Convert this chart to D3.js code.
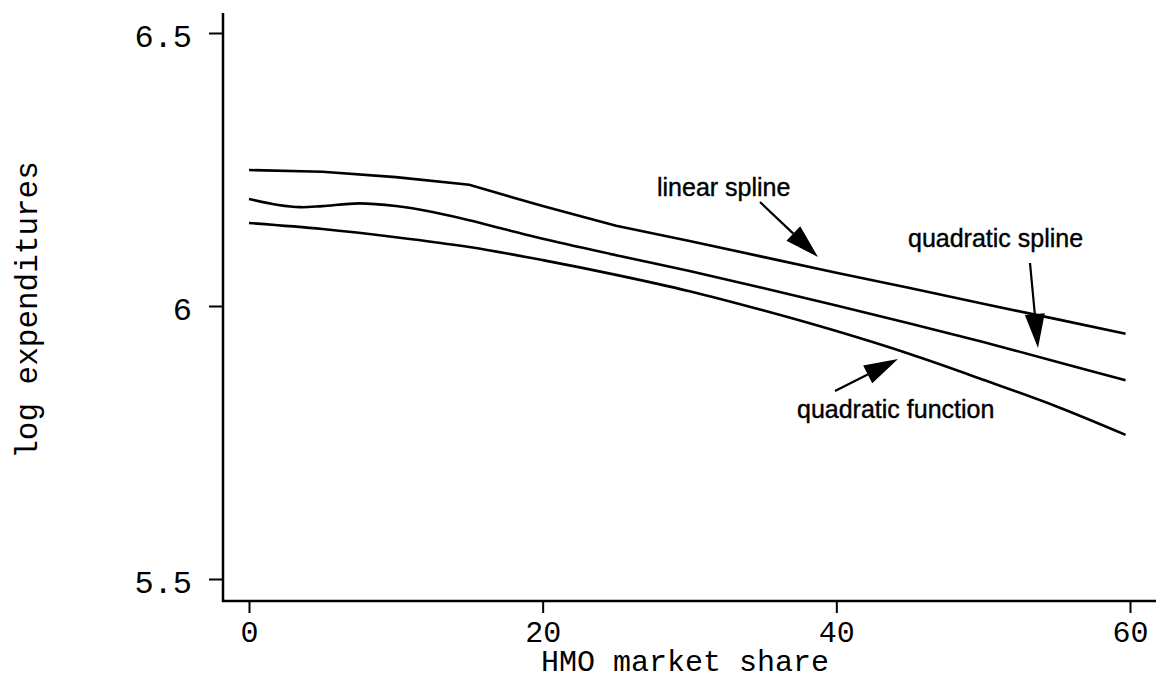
<!DOCTYPE html>
<html><head><meta charset="utf-8">
<script src="https://cdn.jsdelivr.net/npm/d3@7"></script>
<style>body{margin:0;background:#fff}svg{display:block}</style>
</head><body>
<svg id="c" width="1158" height="679"></svg>
<script>
const xTicks = [0, 20, 40, 60];
const yTicks = [5.5, 6, 6.5];
const linearSpline = [[0,6.249],[5,6.246],[10,6.236],[15,6.222],[20,6.183],[25,6.147],[30,6.119],[35,6.090],[40,6.061],[45,6.033],[50,6.004],[55,5.976],[59.7,5.949]];
const quadSpline = [[0,6.196],[2,6.185],[3.5,6.181],[5,6.183],[7.5,6.188],[10,6.183],[12.5,6.172],[15,6.157],[17.5,6.140],[20,6.123],[25,6.093],[30,6.064],[35,6.033],[40,6.001],[45,5.968],[50,5.934],[55,5.898],[59.7,5.864]];
const quadFunction = [[0,6.152],[5,6.141],[10,6.126],[15,6.108],[20,6.084],[25,6.057],[30,6.027],[35,5.992],[40,5.954],[45,5.912],[50,5.865],[55,5.816],[59.7,5.764]];
const annotations = [
  {text:"linear spline", tx:657, ty:196, from:[760,202], to:[818,257]},
  {text:"quadratic spline", tx:908, ty:247, from:[1030,263], to:[1038,348]},
  {text:"quadratic function", tx:797, ty:418, from:[835,391], to:[898,359]}
];

const svg = d3.select("#c");
const x = d3.scaleLinear().domain([0,60]).range([249,1130]);
const y = d3.scaleLinear().domain([5.5,6.5]).range([579,33]);
const axisFont = "'Liberation Mono', 'DejaVu Sans Mono', monospace";

// axis lines
svg.append("line").attr("x1",223).attr("x2",223).attr("y1",13).attr("y2",602)
  .attr("stroke","#000").attr("stroke-width",2.5);
svg.append("line").attr("x1",222).attr("x2",1156).attr("y1",601).attr("y2",601)
  .attr("stroke","#000").attr("stroke-width",2.5);

const ya = svg.append("g").attr("transform","translate(223,0)")
  .call(d3.axisLeft(y).tickValues(yTicks).tickSize(14).tickPadding(17).tickFormat(d=>String(d)));
ya.select(".domain").remove();
ya.selectAll("line").attr("stroke-width",2);
ya.selectAll("text").attr("font-family",axisFont).attr("font-size",32).attr("fill","#000").attr("dy","0.42em");

const xa = svg.append("g").attr("transform","translate(0,601)")
  .call(d3.axisBottom(x).tickValues(xTicks).tickSize(12).tickPadding(8).tickFormat(d=>String(d)));
xa.select(".domain").remove();
xa.selectAll("line").attr("stroke-width",2);
xa.selectAll("text").attr("font-family",axisFont).attr("font-size",30).attr("fill","#000");

svg.append("text").attr("x",685).attr("y",671).attr("text-anchor","middle")
  .attr("font-family",axisFont).attr("font-size",30).text("HMO market share");
svg.append("text").attr("transform","translate(37,310) rotate(-90)").attr("text-anchor","middle")
  .attr("font-family",axisFont).attr("font-size",31).text("log expenditures");

const line = d3.line().x(d=>x(d[0])).y(d=>y(d[1]));
svg.append("path").datum(linearSpline).attr("d",line.curve(d3.curveLinear))
  .attr("fill","none").attr("stroke","#000").attr("stroke-width",2.6);
svg.append("path").datum(quadSpline).attr("d",line.curve(d3.curveCatmullRom))
  .attr("fill","none").attr("stroke","#000").attr("stroke-width",2.6);
svg.append("path").datum(quadFunction).attr("d",line.curve(d3.curveCatmullRom))
  .attr("fill","none").attr("stroke","#000").attr("stroke-width",2.6);

annotations.forEach(a=>{
  svg.append("text").attr("x",a.tx).attr("y",a.ty)
    .attr("font-family","'Liberation Sans', Arial, sans-serif").attr("font-size",25)
    .attr("stroke","#000").attr("stroke-width",0.4).text(a.text);
  const [x0,y0]=a.from,[x1,y1]=a.to;
  const dx=x1-x0, dy=y1-y0, L=Math.hypot(dx,dy), ux=dx/L, uy=dy/L;
  const hl=34, hw=10;
  const bx=x1-ux*hl, by=y1-uy*hl;
  svg.append("line").attr("x1",x0).attr("y1",y0).attr("x2",bx).attr("y2",by)
    .attr("stroke","#000").attr("stroke-width",2.2);
  svg.append("path").attr("d",`M${x1},${y1}L${bx-uy*hw},${by+ux*hw}L${bx+uy*hw},${by-ux*hw}Z`)
    .attr("fill","#000");
});
</script>
</body></html>
